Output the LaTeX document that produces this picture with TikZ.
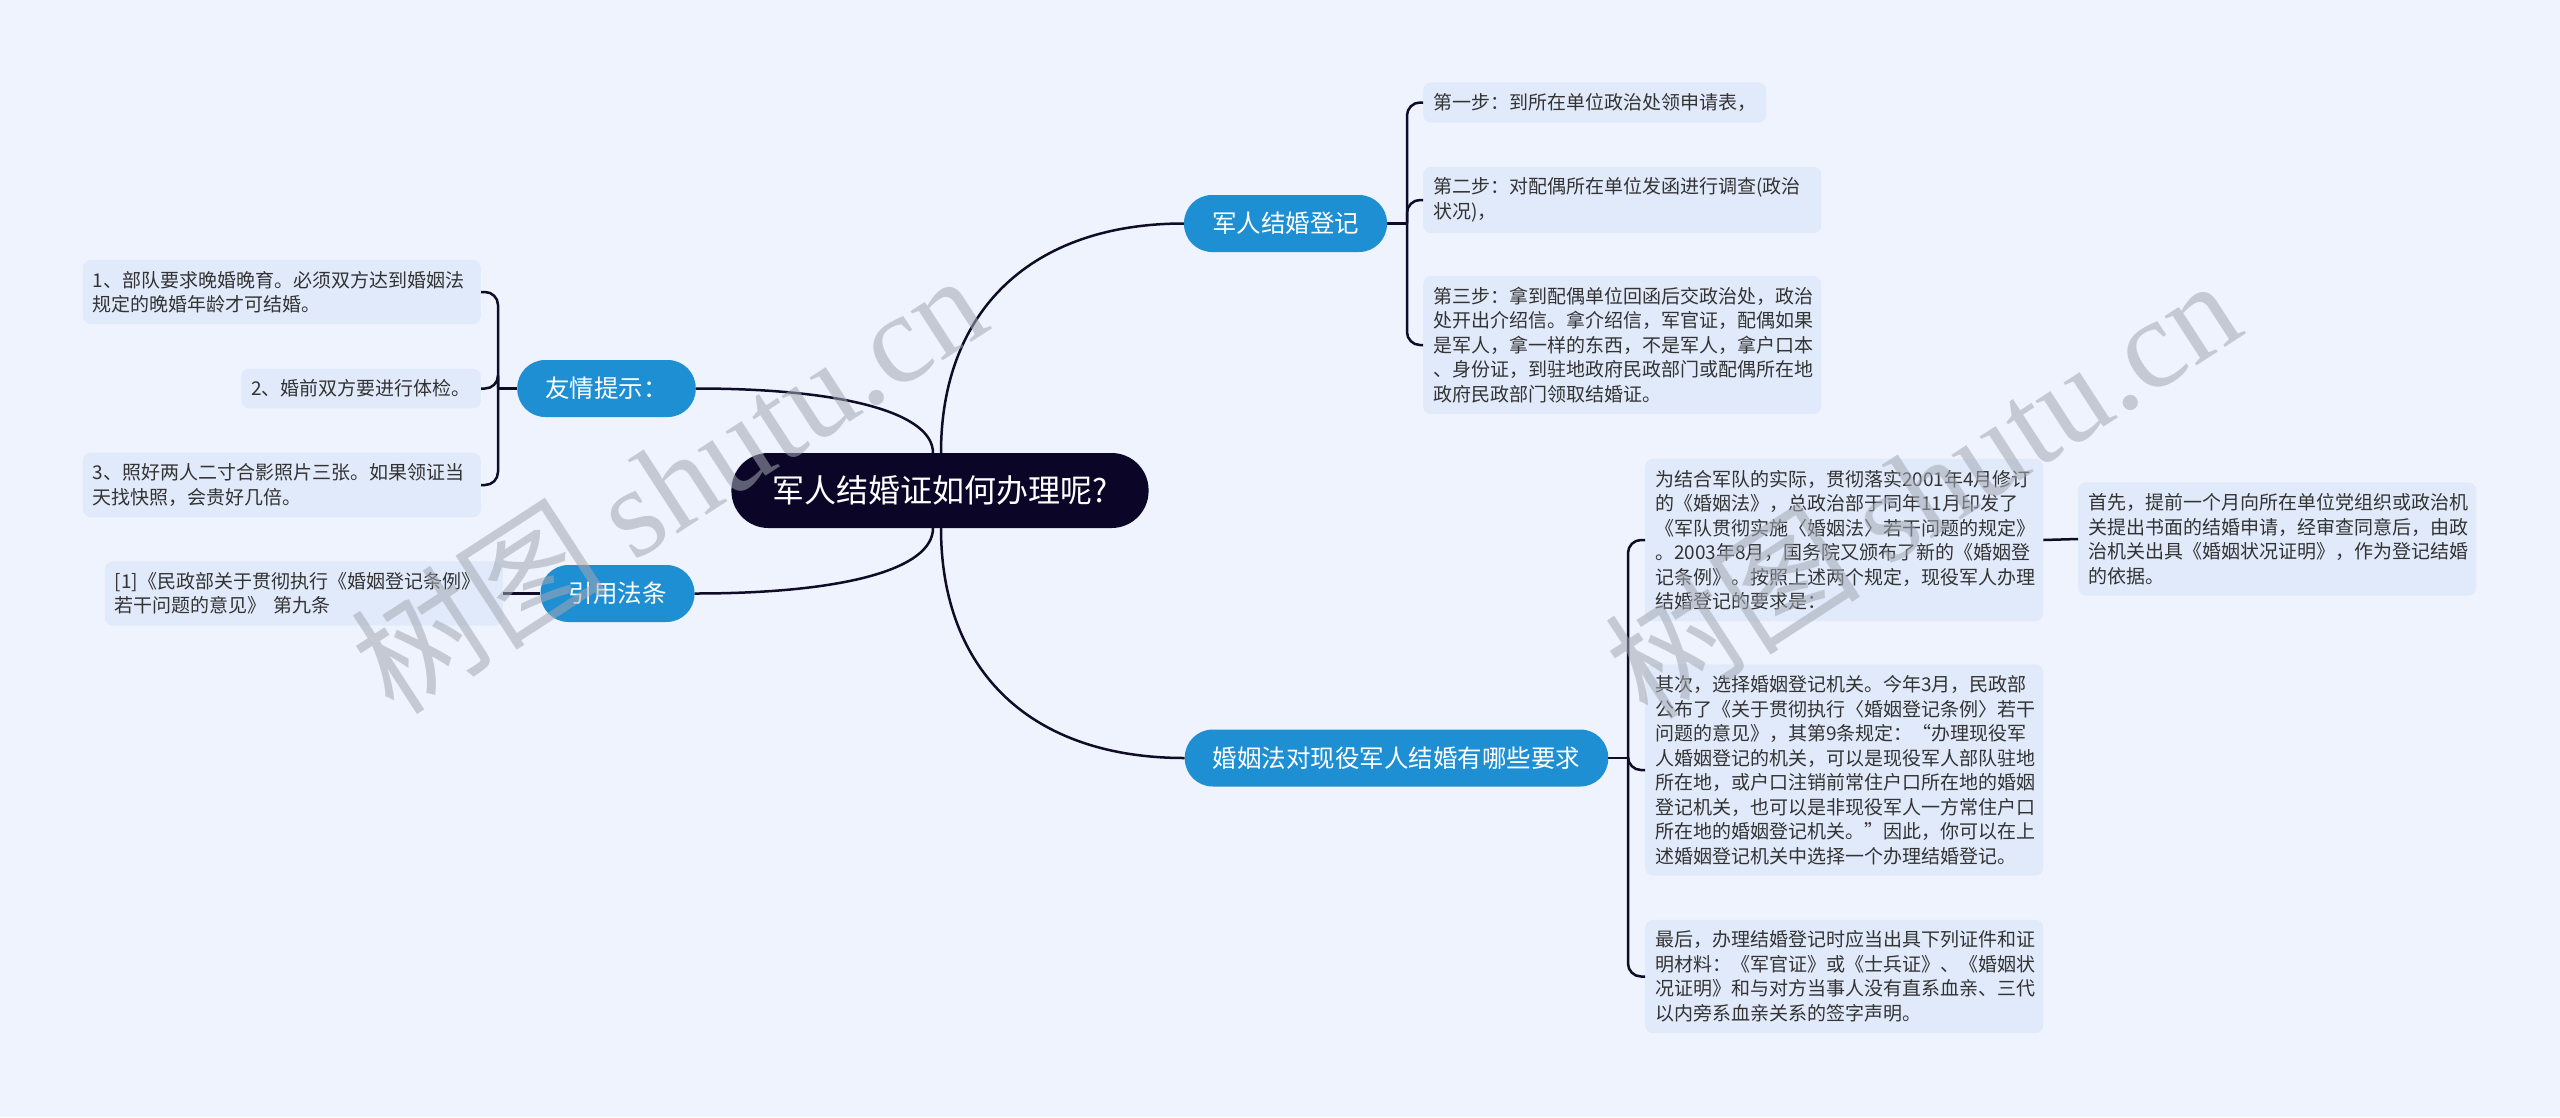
\documentclass[tikz,border=0pt]{standalone}
\usepackage{fontspec}
\setmainfont{Noto Sans CJK SC}
\newfontfamily\wmserif{Liberation Serif}
\usetikzlibrary{calc}
\definecolor{bg}{HTML}{EEF3FD}
\definecolor{leaffill}{HTML}{E1EAFA}
\definecolor{branchblue}{HTML}{1E8FD2}
\definecolor{rootfill}{HTML}{0B0628}
\definecolor{linecol}{HTML}{0E0C26}
\definecolor{leaftext}{HTML}{333333}
\definecolor{wmcol}{HTML}{A3A8B3}
\begin{document}
\begin{tikzpicture}[x=1pt,y=-1pt,
  rootnode/.style={fill=rootfill, text=white, rounded corners=37pt, minimum height=75pt, inner xsep=41pt, inner ysep=0pt, font=\fontsize{32}{38}\selectfont},
  branchnode/.style={fill=branchblue, text=white, rounded corners=28pt, minimum height=57pt, inner xsep=28pt, inner ysep=0pt, font=\fontsize{24.5}{30}\selectfont},
  leafnode/.style={fill=leaffill, text=leaftext, rounded corners=8pt, inner xsep=10pt, inner ysep=11pt, align=left, font=\fontsize{19}{24.5}\selectfont},
  leafwide/.style={text width=378pt},
  conn/.style={draw=linecol, line width=2.5pt},
  watermark/.style={text=wmcol, opacity=0.55, rotate=33, inner sep=0pt, font=\fontsize{128}{128}\selectfont}
]
\fill[bg] (0,0) rectangle (2560,1117);
\useasboundingbox (0,0) rectangle (2560,1117);

% root and branches
\node[rootnode] (root) at (940,490.5) {军人结婚证如何办理呢?};
\node[branchnode] (b1) at (1285.5,223.5) {军人结婚登记};
\node[branchnode] (b2) at (1396.5,758) {婚姻法对现役军人结婚有哪些要求};
\node[branchnode] (b3) at (606.5,388.5) {友情提示：};
\node[branchnode] (b4) at (617.5,593.5) {引用法条};

% leaves of b1
\node[leafnode, anchor=west] (s1) at (1423,102.5) {第一步：到所在单位政治处领申请表，};
\node[leafnode, leafwide, anchor=west] (s2) at (1423,200) {第二步：对配偶所在单位发函进行调查(政治\\状况)，};
\node[leafnode, leafwide, anchor=west] (s3) at (1423,345) {第三步：拿到配偶单位回函后交政治处，政治\\处开出介绍信。拿介绍信，军官证，配偶如果\\是军人，拿一样的东西，不是军人，拿户口本\\、身份证，到驻地政府民政部门或配偶所在地\\政府民政部门领取结婚证。};

% leaves of b2
\node[leafnode, leafwide, anchor=west] (la) at (1645,540) {为结合军队的实际，贯彻落实2001年4月修订\\的《婚姻法》，总政治部于同年11月印发了\\《军队贯彻实施〈婚姻法〉若干问题的规定》\\。2003年8月，国务院又颁布了新的《婚姻登\\记条例》。按照上述两个规定，现役军人办理\\结婚登记的要求是：};
\node[leafnode, leafwide, anchor=west] (lb) at (1645,770) {其次，选择婚姻登记机关。今年3月，民政部\\公布了《关于贯彻执行〈婚姻登记条例〉若干\\问题的意见》，其第9条规定：“办理现役军\\人婚姻登记的机关，可以是现役军人部队驻地\\所在地，或户口注销前常住户口所在地的婚姻\\登记机关，也可以是非现役军人一方常住户口\\所在地的婚姻登记机关。”因此，你可以在上\\述婚姻登记机关中选择一个办理结婚登记。};
\node[leafnode, leafwide, anchor=west] (lc) at (1645,976.5) {最后，办理结婚登记时应当出具下列证件和证\\明材料：《军官证》或《士兵证》、《婚姻状\\况证明》和与对方当事人没有直系血亲、三代\\以内旁系血亲关系的签字声明。};
\node[leafnode, leafwide, anchor=west] (ld) at (2078,539) {首先，提前一个月向所在单位党组织或政治机\\关提出书面的结婚申请，经审查同意后，由政\\治机关出具《婚姻状况证明》，作为登记结婚\\的依据。};

% leaves of b3
\node[leafnode, leafwide, anchor=east] (t1) at (481,292) {1、部队要求晚婚晚育。必须双方达到婚姻法\\规定的晚婚年龄才可结婚。};
\node[leafnode, anchor=east] (t2) at (481,388.5) {2、婚前双方要进行体检。};
\node[leafnode, leafwide, anchor=east] (t3) at (481,485) {3、照好两人二寸合影照片三张。如果领证当\\天找快照，会贵好几倍。};

% leaf of b4
\node[leafnode, leafwide, anchor=east] (r1) at (503,593.5) {[1]《民政部关于贯彻执行《婚姻登记条例》\\若干问题的意见》 第九条};

% connectors from root
\coordinate (ct) at (941,453);
\coordinate (cb) at (941,528);
\coordinate (ctl) at (933,453);
\coordinate (cbl) at (933,528);
\draw[conn] (ct) .. controls ($(ct)+(0,-143)$) and ($(b1.west)+(-152,0)$) .. (b1.west);
\draw[conn] (cb) .. controls ($(cb)+(0,144)$) and ($(b2.west)+(-153,0)$) .. (b2.west);
\draw[conn] (ctl) .. controls ($(ctl)+(0,-40)$) and ($(b3.east)+(148,0)$) .. (b3.east);
\draw[conn] (cbl) .. controls ($(cbl)+(0,41)$) and ($(b4.east)+(150,0)$) .. (b4.east);

% bracket b1
\coordinate (j1) at (1407,223.5);
\draw[conn] (b1.east) -- (j1);
\foreach \c in {s1,s2,s3}
  \draw[conn, rounded corners=13pt] (j1) -- (j1 |- \c.west) -- (\c.west);

% bracket b2
\coordinate (j2) at (1628,758);
\draw[conn] (b2.east) -- (j2);
\foreach \c in {la,lb,lc}
  \draw[conn, rounded corners=13pt] (j2) -- (j2 |- \c.west) -- (\c.west);
\draw[conn] (la.east) -- (ld.west);

% bracket b3
\coordinate (j3) at (498,388.5);
\draw[conn] (b3.west) -- (j3);
\foreach \c in {t1,t2,t3}
  \draw[conn, rounded corners=13pt] (j3) -- (j3 |- \c.east) -- (\c.east);

% b4
\draw[conn] (b4.west) -- (r1.east);

% watermarks
\node[watermark] (wm1) at (668,482) {树图 {\wmserif shutu.cn}};
\node[watermark] (wm2) at (1922,487) {树图 {\wmserif shutu.cn}};
\end{tikzpicture}
\end{document}
